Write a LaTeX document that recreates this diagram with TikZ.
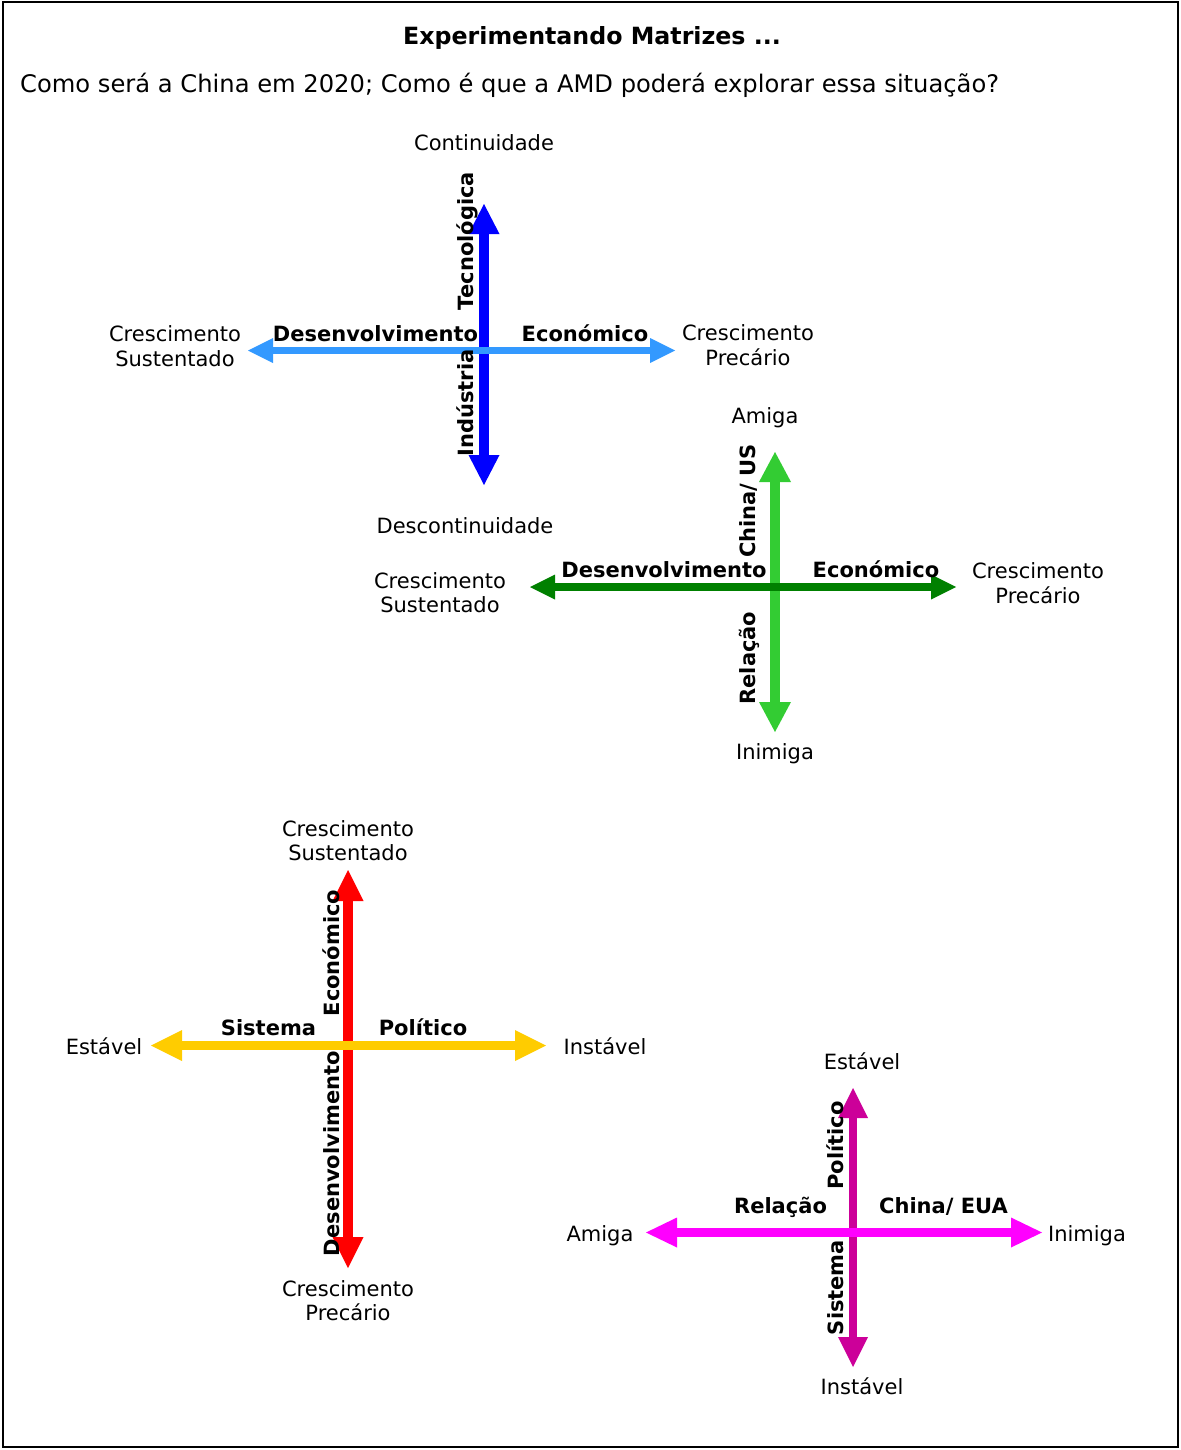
\documentclass[tikz,border=0pt]{standalone}
\usepackage{fontspec}
\setmainfont{DejaVu Sans}
\usetikzlibrary{arrows.meta}

\definecolor{techblue}{HTML}{0000FF}
\definecolor{skyblue}{HTML}{3399FF}
\definecolor{lightgreen}{HTML}{33CC33}
\definecolor{darkgreen}{HTML}{008000}
\definecolor{axisred}{HTML}{FF0000}
\definecolor{axisyellow}{HTML}{FFCC00}
\definecolor{axispurple}{HTML}{CC0099}
\definecolor{axismagenta}{HTML}{FF00FF}

\begin{document}
\begin{tikzpicture}[x=1pt,y=-1pt,
  lbl/.style={inner sep=0pt, font=\fontsize{21}{24.5}\selectfont, align=center},
  blbl/.style={inner sep=0pt, font=\fontsize{21}{24.5}\selectfont\bfseries},
  vlbl/.style={blbl, rotate=90, anchor=base},
  axis/.style n args={3}{line width=#1,
    {Triangle[length=#2,width=#3,line width=0pt]}-{Triangle[length=#2,width=#3,line width=0pt]}}
]
\useasboundingbox (0,0) rectangle (1180,1450);
\draw[line width=2pt] (3,2) rectangle (1178,1447);

% heading
\node[inner sep=0pt, font=\fontsize{23.7}{28}\selectfont\bfseries, anchor=base] (title) at (592,44.5) {Experimentando Matrizes ...};
\node[inner sep=0pt, font=\fontsize{24.2}{28}\selectfont, anchor=base west] (question) at (20,92.5) {Como será a China em 2020; Como é que a AMD poderá explorar essa situação?};

% ---------- matrix 1: technology / economic growth ----------
\coordinate (m1t) at (484,204);
\coordinate (m1b) at (484,485);
\coordinate (m1l) at (248,350.5);
\coordinate (m1r) at (675,350.5);
\draw[techblue, axis={10pt}{30pt}{31pt}] (m1b) -- (m1t);
\draw[skyblue, axis={7.5pt}{25pt}{25pt}] (m1l) -- (m1r);
\node[lbl, anchor=base] (m1top) at (484,151) {Continuidade};
\node[lbl, anchor=base] (m1bot) at (465,533) {Descontinuidade};
\node[lbl] (m1left) at (175,346) {Crescimento\\Sustentado};
\node[lbl] (m1right) at (748,345) {Crescimento\\Precário};
\node[blbl, anchor=base] (m1w) at (375.5,341.5) {Desenvolvimento};
\node[blbl, anchor=base] (m1e) at (585,341.5) {Económico};
\node[vlbl] (m1n) at (473.5,241) {Tecnológica};
\node[vlbl] (m1s) at (473.5,403) {Indústria};

% ---------- matrix 2: China/US relation / economic growth ----------
\coordinate (m2t) at (775,452);
\coordinate (m2b) at (775,732);
\coordinate (m2l) at (530,587);
\coordinate (m2r) at (956,587);
\draw[lightgreen, axis={10pt}{30pt}{32pt}] (m2b) -- (m2t);
\draw[darkgreen, axis={8.5pt}{25pt}{25pt}] (m2l) -- (m2r);
\node[lbl, anchor=base] (m2top) at (765,423.5) {Amiga};
\node[lbl, anchor=base] (m2bot) at (775,759.5) {Inimiga};
\node[lbl] (m2left) at (440,592.5) {Crescimento\\Sustentado};
\node[lbl] (m2right) at (1038,583) {Crescimento\\Precário};
\node[blbl, anchor=base] (m2w) at (664,577) {Desenvolvimento};
\node[blbl, anchor=base] (m2e) at (876,577) {Económico};
\node[vlbl] (m2n) at (755,501) {China/ US};
\node[vlbl] (m2s) at (755,658) {Relação};

% ---------- matrix 3: political system / economic growth ----------
\coordinate (m3t) at (348,870);
\coordinate (m3b) at (348,1268);
\coordinate (m3l) at (151,1045.5);
\coordinate (m3r) at (546,1045.5);
\draw[axisred, axis={10pt}{31pt}{31pt}] (m3b) -- (m3t);
\draw[axisyellow, axis={9.5pt}{31pt}{31pt}] (m3l) -- (m3r);
\node[lbl] (m3top) at (348,840.5) {Crescimento\\Sustentado};
\node[lbl] (m3bot) at (348,1300.5) {Crescimento\\Precário};
\node[lbl, anchor=base] (m3left) at (104,1054.5) {Estável};
\node[lbl, anchor=base] (m3right) at (605,1054.5) {Instável};
\node[blbl, anchor=base] (m3w) at (268.5,1035) {Sistema};
\node[blbl, anchor=base] (m3e) at (423,1035) {Político};
\node[vlbl] (m3n) at (339,953) {Económico};
\node[vlbl] (m3s) at (339,1153.5) {Desenvolvimento};

% ---------- matrix 4: political system / China-USA relation ----------
\coordinate (m4t) at (853,1088);
\coordinate (m4b) at (853,1367);
\coordinate (m4l) at (646,1232.5);
\coordinate (m4r) at (1042,1232.5);
\draw[axispurple, axis={8.5pt}{30pt}{30pt}] (m4b) -- (m4t);
\draw[axismagenta, axis={9pt}{31pt}{30pt}] (m4l) -- (m4r);
\node[lbl, anchor=base] (m4top) at (862,1069.5) {Estável};
\node[lbl, anchor=base] (m4bot) at (862,1394.5) {Instável};
\node[lbl, anchor=base] (m4left) at (600,1241.5) {Amiga};
\node[lbl, anchor=base] (m4right) at (1087,1241.5) {Inimiga};
\node[blbl, anchor=base] (m4w) at (780.5,1213) {Relação};
\node[blbl, anchor=base] (m4e) at (943.5,1213) {China/ EUA};
\node[vlbl] (m4n) at (843.5,1145.5) {Político};
\node[vlbl] (m4s) at (843.5,1287.5) {Sistema};
\end{tikzpicture}
\end{document}
